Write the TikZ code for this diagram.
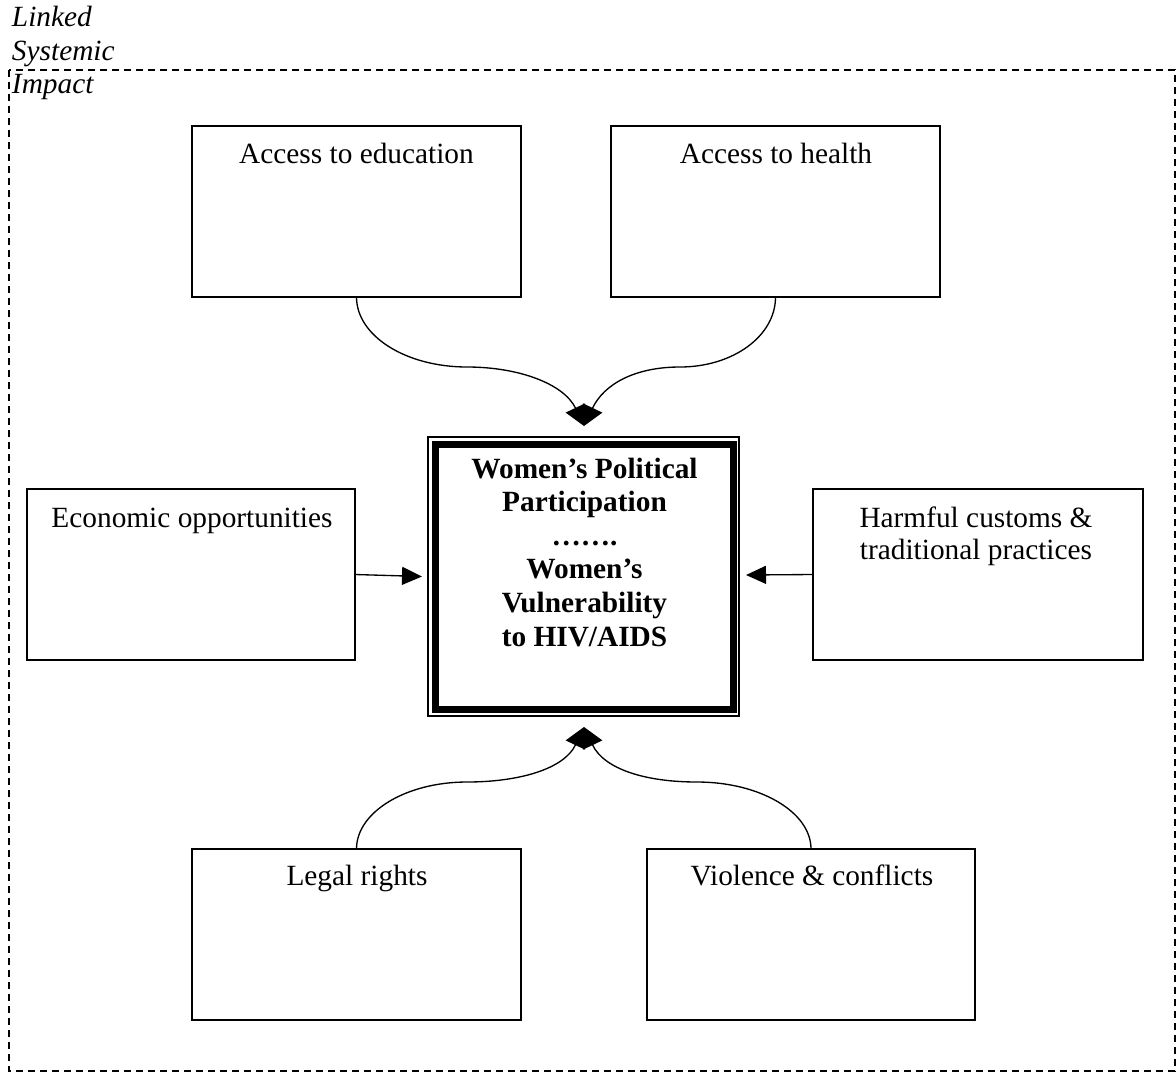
\documentclass[tikz,border=0pt]{standalone}
\usepackage{fontspec}
\setmainfont{Liberation Serif}
\usetikzlibrary{arrows.meta}
\begin{document}
\begin{tikzpicture}[x=0.75pt,y=-0.75pt,
  every node/.style={inner sep=0pt, outer sep=0pt},
  fbox/.style={draw, line width=1pt, rectangle, minimum width=246.75pt, minimum height=128.25pt},
  lbl/.style={anchor=base, font=\fontsize{22}{24}\selectfont},
  conn/.style={line width=1pt},
  sidearr/.style={conn, -{Triangle[length=15pt,width=13.5pt]}},
  curvearr/.style={conn, -{Triangle[length=15pt,width=16pt]}},
  frame/.style={line width=0.9pt, dash pattern=on 5.5pt off 3.5pt},
]
\useasboundingbox (0,0) rectangle (1176,1077);

% dashed frame
\draw[frame] (9,70) rectangle (1175,1071);

% frame label
\node[anchor=base west, font=\fontsize{22}{25}\selectfont\itshape] (framelbl) at (12,27)
  {\begin{tabular}[t]{@{}l@{}}Linked\\ Systemic\\ Impact\end{tabular}};

% outer boxes
\node[fbox] (edu) at (356.5,211.5) {};
\node[fbox] (health) at (775.5,211.5) {};
\node[fbox, minimum width=246pt] (econ) at (191,574.5) {};
\node[fbox, minimum width=247.5pt] (harm) at (978,574.5) {};
\node[fbox] (legal) at (356.5,934.5) {};
\node[fbox, minimum width=246pt] (viol) at (811,934.5) {};

% box texts
\node[lbl] (edut) at (356.5,163) {Access to education};
\node[lbl] (healtht) at (776,163) {Access to health};
\node[lbl] (econt) at (192,527) {Economic opportunities};
\node[lbl] (harmt) at (976,527) {\begin{tabular}[t]{@{}c@{}}Harmful customs \&\\ traditional practices\end{tabular}};
\node[lbl] (legalt) at (357,885) {Legal rights};
\node[lbl] (violt) at (812,885) {Violence \& conflicts};

% center box
\node[draw, line width=1pt, rectangle, minimum width=233.25pt, minimum height=209.25pt] (cen) at (583.5,576.5) {};
\draw[line width=5.25pt] ([shift={(7,7)}]cen.north west) rectangle ([shift={(-5.5,-7)}]cen.south east);
\node[anchor=base, font=\fontsize{22}{25.2}\selectfont\bfseries] (cent) at (584.5,478)
  {\begin{tabular}[t]{@{}c@{}}Women’s Political\\ Participation\\ …….\\ Women’s\\ Vulnerability\\ to HIV/AIDS\end{tabular}};

% arrow tip coordinates
\coordinate (toptip) at (584,426);
\coordinate (bottip) at (584,727);
\coordinate (lefttip) at (422,576.5);
\coordinate (righttip) at (746,575);

% curved connectors
\draw[curvearr] (edu.south) .. controls +(0,39) and +(-61,0) .. (467,367)
  .. controls +(52,0) and (564,384) .. (toptip);
\draw[curvearr] (health.south) .. controls +(0,39) and +(53,0) .. (680,367)
  .. controls +(-45,0) and (604,384) .. (toptip);
\draw[curvearr] (legal.north) .. controls +(0,-37) and +(-61,0) .. (467,782)
  .. controls +(52,0) and (564,769) .. (bottip);
\draw[curvearr] (viol.north) .. controls +(0,-37) and +(63,0) .. (697,782)
  .. controls +(-52,0) and (604,769) .. (bottip);

% side connectors
\draw[sidearr] (econ.east) -- (lefttip);
\draw[sidearr] (harm.west) -- (righttip);
\end{tikzpicture}
\end{document}
